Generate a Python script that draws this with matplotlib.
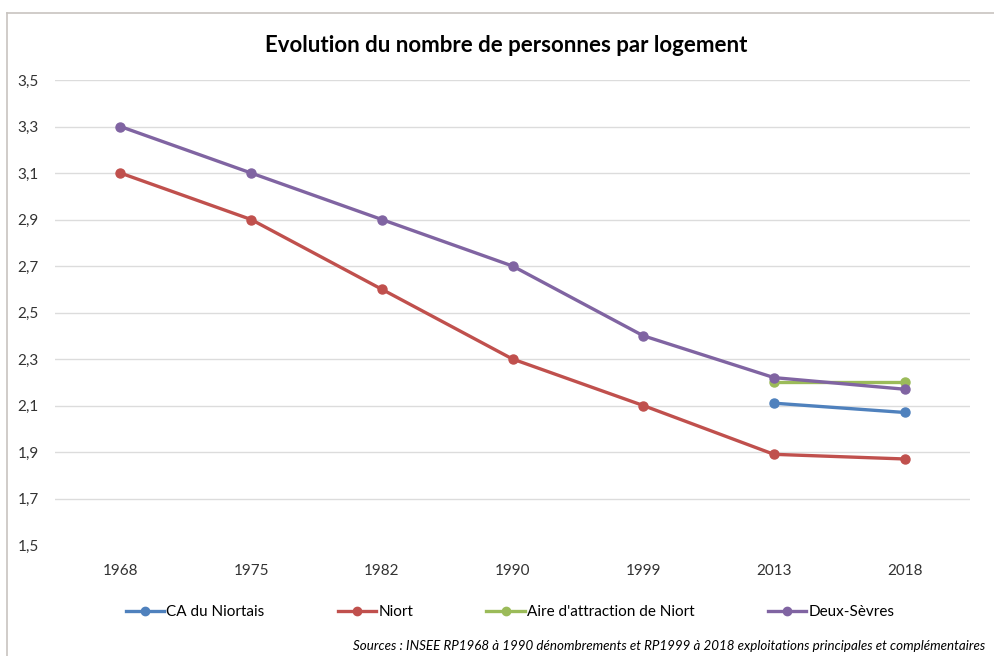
import matplotlib.pyplot as plt
from matplotlib.lines import Line2D

plt.rcParams['font.family'] = ['Lato', 'DejaVu Sans']

annees = ['1968', '1975', '1982', '1990', '1999', '2013', '2018']
ca_niortais = [None, None, None, None, None, 2.11, 2.07]
niort = [3.1, 2.9, 2.6, 2.3, 2.1, 1.89, 1.87]
aire_niort = [None, None, None, None, None, 2.2, 2.2]
deux_sevres = [3.3, 3.1, 2.9, 2.7, 2.4, 2.22, 2.17]

series = [
    ('CA du Niortais', ca_niortais, '#4F81BD'),
    ('Niort', niort, '#C0504D'),
    ("Aire d'attraction de Niort", aire_niort, '#9BBB59'),
    ('Deux-Sèvres', deux_sevres, '#8064A2'),
]

fig = plt.figure(figsize=(9.94, 6.56), dpi=100)
ax = fig.add_axes([55 / 994, 1 - 545 / 656, 915 / 994, 465 / 656])

x = list(range(len(annees)))
for nom, vals, couleur in series:
    xs = [i for i, v in zip(x, vals) if v is not None]
    ys = [v for v in vals if v is not None]
    ax.plot(xs, ys, color=couleur, lw=2.4, marker='o', ms=6.5, label=nom)

ax.set_xlim(-0.5, len(annees) - 0.5)
ax.set_ylim(1.5, 3.5)
ax.set_xticks(x)
ax.set_xticklabels(annees)
yt = [1.5, 1.7, 1.9, 2.1, 2.3, 2.5, 2.7, 2.9, 3.1, 3.3, 3.5]
ax.set_yticks(yt)
ax.set_yticklabels([('%.1f' % v).replace('.', ',') for v in yt])
ax.tick_params(length=0, labelsize=11, colors='#333333')
ax.tick_params(axis='x', pad=14)
ax.tick_params(axis='y', pad=11.5)
ax.yaxis.grid(True, color='#dcdcdc', lw=1)
ax.get_ygridlines()[0].set_visible(False)
ax.set_axisbelow(True)
for s in ax.spines.values():
    s.set_visible(False)

fig.text(506 / 994, 1 - 45 / 656, 'Evolution du nombre de personnes par logement',
         ha='center', va='center', fontsize=16, fontweight='bold')

handles = [Line2D([], [], color=c, lw=2.4, marker='o', ms=6) for _, _, c in series]
fig.legend(handles, [s[0] for s in series], loc='center', ncol=4,
           bbox_to_anchor=(510 / 994, 1 - 612 / 656), frameon=False, fontsize=11,
           handlelength=2.5, handletextpad=0.15, columnspacing=4.8)

fig.text(985 / 994, 1 - 646 / 656,
         'Sources : INSEE RP1968 à 1990 dénombrements et RP1999 à 2018 exploitations principales et complémentaires',
         ha='right', va='center', fontsize=9.6, style='italic')

# cadre
fig.add_artist(Line2D([7 / 994, 7 / 994], [0, 1 - 13 / 656], color='#c8c4c0', lw=1.2))
fig.add_artist(Line2D([7 / 994, 1], [1 - 13 / 656, 1 - 13 / 656], color='#c8c4c0', lw=1.2))

fig.savefig('out.png', dpi=100)
